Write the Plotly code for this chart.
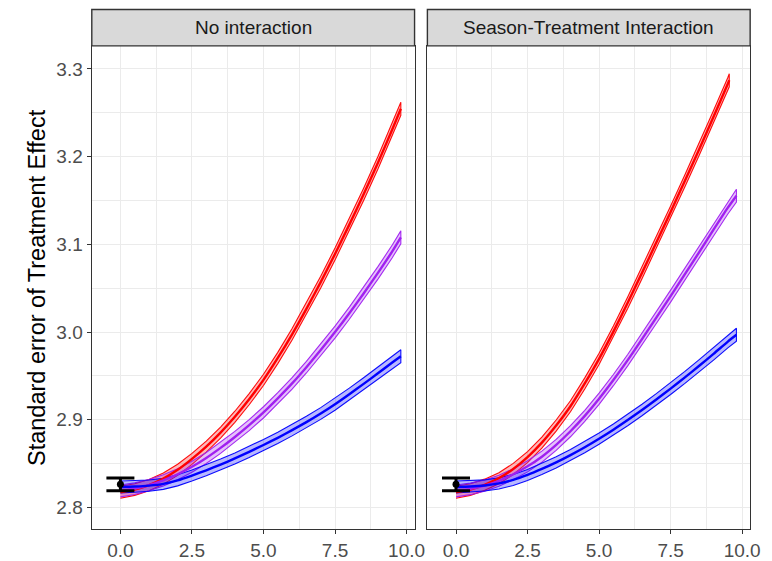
import plotly.graph_objects as go

# Horizontal positions of the simulated standard errors
x_grid = [0.0, 0.5, 1.0, 1.5, 2.0, 2.5, 3.0, 3.5, 4.0, 4.5, 5.0,
          5.5, 6.0, 6.5, 7.0, 7.5, 8.0, 8.5, 9.0, 9.5, 9.8]
x_grid_red_si = [0.0, 0.5, 1.0, 1.5, 2.0, 2.5, 3.0, 3.5, 4.0, 4.5, 5.0,
                 5.5, 6.0, 6.5, 7.0, 7.5, 8.0, 8.5, 9.0, 9.5, 9.55]

# Panel 1: no interaction
red_noint = [2.8175, 2.8205, 2.8255, 2.8330, 2.8430, 2.8555, 2.8695, 2.8855, 2.9035, 2.9235, 2.9455,
             2.9705, 2.9975, 3.0265, 3.0570, 3.0890, 3.1225, 3.1570, 3.1930, 3.2310, 3.2545]
purple_noint = [2.8190, 2.8215, 2.8255, 2.8310, 2.8380, 2.8465, 2.8565, 2.8680, 2.8805, 2.8940, 2.9085,
                2.9245, 2.9415, 2.9600, 2.9795, 3.0000, 3.0215, 3.0440, 3.0675, 3.0920, 3.1080]
blue_noint = [2.8235, 2.8240, 2.8250, 2.8270, 2.8310, 2.8365, 2.8425, 2.8490, 2.8560, 2.8635, 2.8713,
              2.8795, 2.8882, 2.8974, 2.9072, 2.9178, 2.9292, 2.9410, 2.9530, 2.9653, 2.9725]

# Panel 2: season-treatment interaction
red_si = [2.8175, 2.8205, 2.8260, 2.8335, 2.8440, 2.8575, 2.8740, 2.8935, 2.9155, 2.9415, 2.9695,
          3.0005, 3.0335, 3.0675, 3.1020, 3.1370, 3.1725, 3.2085, 3.2455, 3.2830, 3.2870]
purple_si = [2.8190, 2.8213, 2.8250, 2.8305, 2.8380, 2.8470, 2.8580, 2.8715, 2.8870, 2.9045, 2.9240,
             2.9453, 2.9680, 2.9920, 3.0165, 3.0410, 3.0660, 3.0912, 3.1167, 3.1418, 3.1555]
blue_si = [2.8235, 2.8240, 2.8252, 2.8275, 2.8315, 2.8372, 2.8440, 2.8515, 2.8598, 2.8688, 2.8785,
           2.8888, 2.8998, 2.9112, 2.9232, 2.9356, 2.9484, 2.9616, 2.9752, 2.9892, 2.9970]

# Half-width of the simulation confidence bands
ci_half = [0.0068, 0.0066, 0.0064, 0.0063, 0.0063, 0.0063, 0.0063, 0.0063, 0.0063, 0.0063, 0.0064,
           0.0064, 0.0065, 0.0066, 0.0067, 0.0068, 0.0069, 0.0070, 0.0071, 0.0072, 0.0074]

# Analytic reference value at zero with its error bar
ref_x = [0.0]
ref_se = [2.8265]
ref_err = [0.0072]

panel_titles = ["No interaction", "Season-Treatment Interaction"]
x_ticks = [0.0, 2.5, 5.0, 7.5, 10.0]
x_minor = [1.25, 3.75, 6.25, 8.75]
y_ticks = [2.8, 2.9, 3.0, 3.1, 3.2, 3.3]
y_minor = [2.85, 2.95, 3.05, 3.15, 3.25]

colors = {"red": (255, 0, 0), "purple": (160, 32, 240), "blue": (0, 0, 255)}

panels = [
    ("x", "y", [("red", x_grid, red_noint), ("purple", x_grid, purple_noint), ("blue", x_grid, blue_noint)]),
    ("x2", "y2", [("red", x_grid_red_si, red_si), ("purple", x_grid, purple_si), ("blue", x_grid, blue_si)]),
]

fig = go.Figure()

for xa, ya, series in panels:
    # confidence ribbons
    for name, xs, ys in series:
        r, g, b = colors[name]
        upper = [v + h for v, h in zip(ys, ci_half)]
        lower = [v - h for v, h in zip(ys, ci_half)]
        fig.add_trace(go.Scatter(
            x=xs + xs[::-1], y=upper + lower[::-1],
            xaxis=xa, yaxis=ya, mode="lines", fill="toself",
            fillcolor=f"rgba({r},{g},{b},0.28)",
            line=dict(color=f"rgba({r},{g},{b},0.95)", width=1.1),
            hoverinfo="skip", showlegend=False))
    # central estimates
    for name, xs, ys in series:
        r, g, b = colors[name]
        fig.add_trace(go.Scatter(
            x=xs, y=ys, xaxis=xa, yaxis=ya, mode="lines",
            line=dict(color=f"rgb({r},{g},{b})", width=2.4, shape="spline", smoothing=0.6),
            showlegend=False))
    # reference point with error bar
    fig.add_trace(go.Scatter(
        x=ref_x, y=ref_se, xaxis=xa, yaxis=ya, mode="markers",
        marker=dict(color="black", size=7),
        error_y=dict(type="data", array=ref_err, width=14, thickness=3, color="black"),
        showlegend=False))

font_family = "Liberation Sans, Arial, sans-serif"
border = "#333333"
grid = "#EBEBEB"

y_bottom = 31 / 561
y_top = 515 / 561
strip_top = 551.5 / 561

xaxis_common = dict(
    range=[-1.0, 10.28], tickvals=x_ticks, ticktext=[f"{v:.1f}" for v in x_ticks],
    ticks="outside", ticklen=4, tickwidth=1.2, tickcolor=border,
    showline=True, mirror=True, linecolor=border, linewidth=1.4,
    showgrid=True, gridcolor=grid, gridwidth=1.4, zeroline=False,
    minor=dict(tickvals=x_minor, showgrid=True, gridcolor=grid, gridwidth=1.1, ticks=""),
    tickfont=dict(family=font_family, size=19, color="#4D4D4D"),
)
yaxis_common = dict(
    range=[2.7755, 3.3262], tickvals=y_ticks,
    ticks="outside", ticklen=4, tickwidth=1.2, tickcolor=border,
    showline=True, mirror=True, linecolor=border, linewidth=1.4,
    showgrid=True, gridcolor=grid, gridwidth=1.4, zeroline=False,
    minor=dict(tickvals=y_minor, showgrid=True, gridcolor=grid, gridwidth=1.1, ticks=""),
    tickfont=dict(family=font_family, size=19, color="#4D4D4D"),
    domain=[y_bottom, y_top],
)

fig.update_layout(
    width=772, height=561,
    margin=dict(l=0, r=0, t=0, b=0),
    paper_bgcolor="white", plot_bgcolor="white",
    xaxis=dict(xaxis_common, domain=[93 / 772, 420 / 772], anchor="y"),
    xaxis2=dict(xaxis_common, domain=[433 / 772, 760 / 772], anchor="y2"),
    yaxis=dict(yaxis_common, anchor="x", tickformat=".1f"),
    yaxis2=dict(yaxis_common, anchor="x2", matches="y", showticklabels=False, ticks=""),
    font=dict(family=font_family),
)

shapes = []
annotations = []
for xa, title in zip(["x", "x2"], panel_titles):
    shapes.append(dict(
        type="rect", xref=f"{xa} domain", yref="paper",
        x0=0, x1=1, y0=y_top, y1=strip_top,
        fillcolor="#D9D9D9", line=dict(color=border, width=1.4), layer="above"))
    annotations.append(dict(
        text=title, xref=f"{xa} domain", yref="paper",
        x=0.5, y=(y_top + strip_top) / 2, showarrow=False,
        xanchor="center", yanchor="middle",
        font=dict(family=font_family, size=19, color="#1A1A1A")))

annotations.append(dict(
    text="Standard error of Treatment Effect", xref="paper", yref="paper",
    x=38 / 772, y=(y_bottom + y_top) / 2, textangle=-90, showarrow=False,
    xanchor="center", yanchor="middle",
    font=dict(family=font_family, size=23.5, color="black")))

fig.update_layout(shapes=shapes, annotations=annotations)

fig.write_html("out.html")
